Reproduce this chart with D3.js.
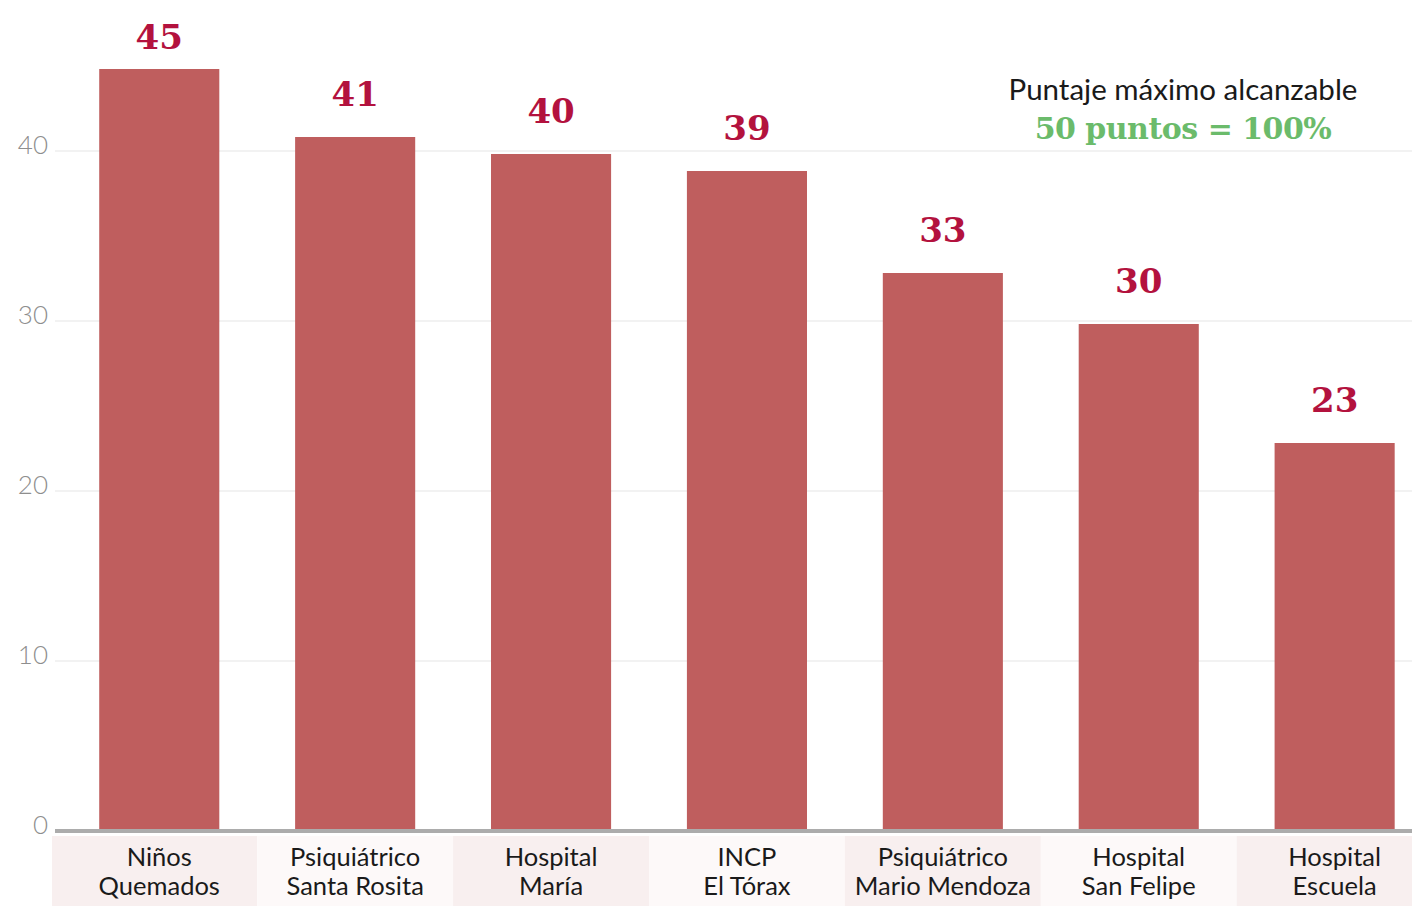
<!DOCTYPE html>
<html><head><meta charset="utf-8">
<script src="https://cdn.jsdelivr.net/npm/d3@7"></script>
<style>body{margin:0;background:#fff}svg{display:block}</style>
</head><body><svg id="c" width="1412" height="906"></svg>
<script>
const categories = [["Niños","Quemados"],["Psiquiátrico","Santa Rosita"],["Hospital","María"],["INCP","El Tórax"],["Psiquiátrico","Mario Mendoza"],["Hospital","San Felipe"],["Hospital","Escuela"]];
const values = [45,41,40,39,33,30,23];
const yTicks = [0,10,20,30,40];
const noteLine1 = "Puntaje máximo alcanzable";
const noteLine2 = "50 puntos = 100%";

const svg = d3.select("#c");
const W = 1412, H = 906;
const x = d3.scaleBand().domain(d3.range(values.length)).range([62, 62 + 195.7*7]).paddingInner(0.387).paddingOuter(0.19);
const y = d3.scaleLinear().domain([0, 40]).range([831, 151]);

// label background bands
const step = x.step();
svg.selectAll("rect.bg").data(values).enter().append("rect")
  .attr("x", (d,i)=> i===0 ? 52 : x(i)+x.bandwidth()/2-step/2)
  .attr("width", (d,i)=> i===0 ? (x(0)+x.bandwidth()/2+step/2-52) : step)
  .attr("y", 836).attr("height", 70)
  .attr("fill", (d,i)=> i%2===0 ? "#f8efef" : "#fdf9f9");

// gridlines
svg.selectAll("line.grid").data(yTicks.filter(t=>t>0)).enter().append("line")
  .attr("x1", 55).attr("x2", W).attr("y1", d=>y(d)).attr("y2", d=>y(d))
  .attr("stroke", "#f2f2f2").attr("stroke-width", 2);

// y tick labels
svg.selectAll("text.yt").data(yTicks).enter().append("text")
  .attr("x", 48).attr("y", d=>y(d)-3).attr("text-anchor","end")
  .attr("dominant-baseline","middle")
  .attr("font-family","Lato, sans-serif").attr("font-weight",300).attr("font-size",26)
  .attr("fill","#8e8e8e").text(d=>d);

// bars
svg.selectAll("rect.bar").data(values).enter().append("rect")
  .attr("x",(d,i)=>x(i)).attr("width",x.bandwidth())
  .attr("y",d=>y(d)+3).attr("height",d=>y(0)-y(d)-3)
  .attr("fill","#bf5e5e");

// axis line
svg.append("line").attr("x1",55).attr("x2",W).attr("y1",y(0)).attr("y2",y(0))
  .attr("stroke","#acacac").attr("stroke-width",4);

// value labels
svg.selectAll("text.val").data(values).enter().append("text")
  .attr("x",(d,i)=>x(i)+x.bandwidth()/2).attr("y",d=>Math.max(y(d)-28, 49))
  .attr("text-anchor","middle")
  .attr("font-family","'DejaVu Serif', serif").attr("font-weight","bold").attr("font-size",34)
  .attr("fill","#b3123e").text(d=>d);

// category labels (two lines, separate text elements)
[0,1].forEach(line => {
  svg.selectAll("text.cat"+line).data(categories).enter().append("text")
    .attr("text-anchor","middle")
    .attr("x",(d,i)=>x(i)+x.bandwidth()/2).attr("y", line===0 ? 866 : 895)
    .attr("font-family","Lato, sans-serif").attr("font-size",25.5)
    .attr("fill","#1a1a1a").text(d=>d[line]);
});

// note
svg.append("text").attr("x",1183).attr("y",100).attr("text-anchor","middle")
  .attr("font-family","Lato, sans-serif").attr("font-size",29.5).attr("fill","#1a1a1a").text(noteLine1);
svg.append("text").attr("x",1183).attr("y",139).attr("text-anchor","middle")
  .attr("font-family","'DejaVu Serif', serif").attr("font-weight","bold").attr("font-size",30).attr("letter-spacing",-0.5).attr("fill","#6bbb6b").text(noteLine2);
</script></body></html>
